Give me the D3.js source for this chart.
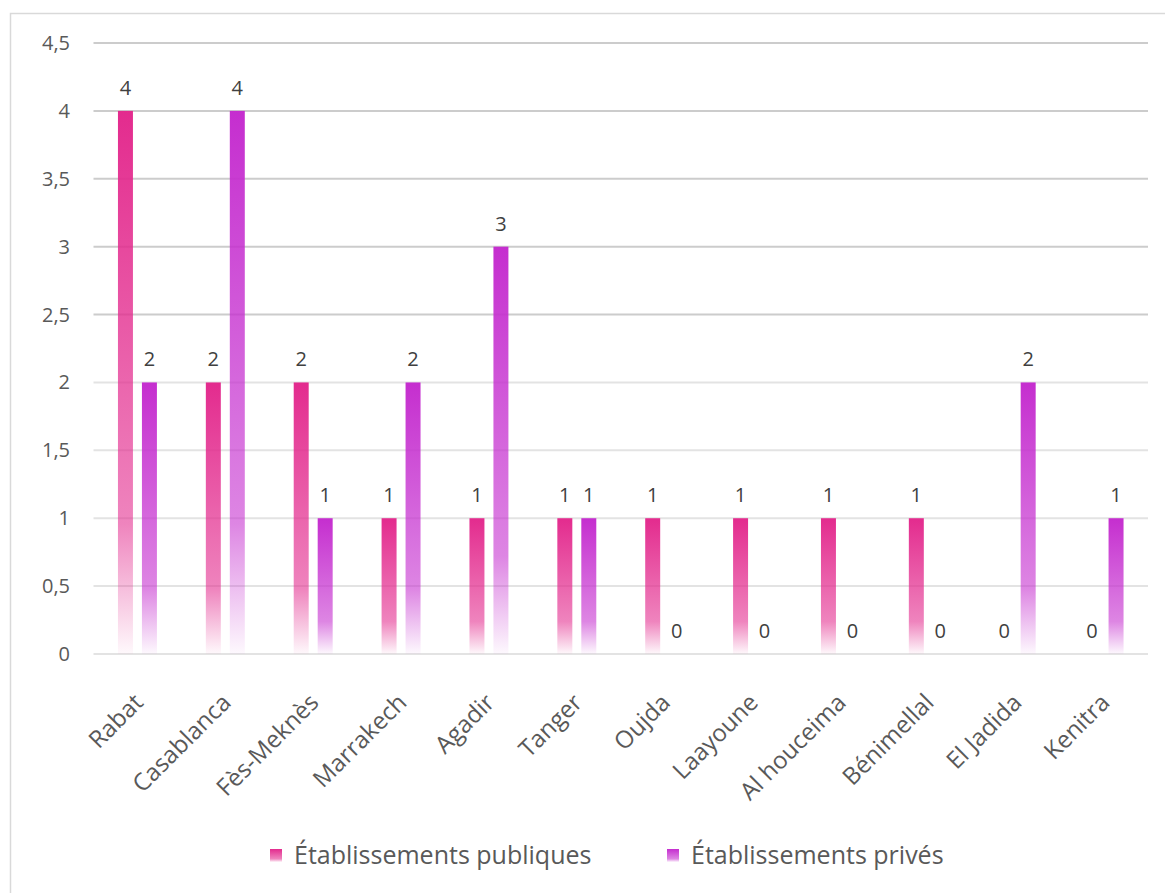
<!DOCTYPE html>
<html>
<head>
<meta charset="utf-8">
<script src="https://cdn.jsdelivr.net/npm/d3@7"></script>
<style>
    body { margin: 0; background: #fff; }
    text { font-family: "Open Sans", Calibri, sans-serif; }
    .tick-label { fill: #595959; font-size: 20px; }
    .cat-label { fill: #595959; font-size: 24px; }
    .value-label { fill: #404040; font-size: 20px; }
    .legend-label { fill: #595959; font-size: 25px; }
</style>
</head>
<body>
<div id="chart"></div>
<script>
"use strict"

// data
const categories = ["Rabat", "Casablanca", "Fès-Meknès", "Marrakech", "Agadir", "Tanger",
                    "Oujda", "Laayoune", "Al houceima", "Bénimellal", "El Jadida", "Kenitra"]
const publiques = [4, 2, 2, 1, 1, 1, 1, 1, 1, 1, 0, 0]
const prives    = [2, 4, 1, 2, 3, 1, 0, 0, 0, 0, 2, 1]
const seriesNames = ["Établissements publiques", "Établissements privés"]
const yTicks = [0, 0.5, 1, 1.5, 2, 2.5, 3, 3.5, 4, 4.5]

const chart = (function() {
    const w = 1165, h = 893
    const frame = { l: 93.5, r: 1148, t: 43, b: 654 }
    const colors = ["#E32B8E", "#C52ECF"]
    const fmt = d3.formatLocale({ decimal: ",", thousands: " ", grouping: [3], currency: ["", ""] }).format("~g")

    const rows = categories.map((c, i) => ({ cat: c, vals: [publiques[i], prives[i]] }))

    const x = d3.scaleBand().domain(categories).range([frame.l, frame.r]).paddingInner(0).paddingOuter(0)
    const x1 = d3.scaleBand().domain([0, 1]).range([0, x.bandwidth()]).paddingInner(0.375).paddingOuter(1.02)
    const y = d3.scaleLinear().domain([0, 4.5]).range([frame.b, frame.t])

    const svg = d3.select("#chart").append("svg")
        .attr("width", w).attr("height", h)

    // gradients (full colour at top, fading to white at the base)
    const defs = svg.append("defs")
    colors.forEach((c, i) => {
        const g = defs.append("linearGradient")
            .attr("id", "grad" + i)
            .attr("x1", 0).attr("y1", 0).attr("x2", 0).attr("y2", 1)
        g.append("stop").attr("offset", "0%").attr("stop-color", c).attr("stop-opacity", 1)
        g.append("stop").attr("offset", "76%").attr("stop-color", c).attr("stop-opacity", 0.58)
        g.append("stop").attr("offset", "100%").attr("stop-color", c).attr("stop-opacity", 0.03)
    })

    // outer frame
    svg.append("rect")
        .attr("x", 10.5).attr("y", 13.5)
        .attr("width", w + 20).attr("height", h + 20)
        .attr("fill", "none").attr("stroke", "#d9d9d9").attr("stroke-width", 1.5)

    // gridlines
    svg.append("g").selectAll("line")
        .data(yTicks)
        .enter().append("line")
            .attr("x1", frame.l).attr("x2", frame.r)
            .attr("y1", d => y(d)).attr("y2", d => y(d))
            .attr("stroke", d => d > 2 ? "#cccccc" : "#e3e3e3")
            .attr("stroke-width", 2)

    // y tick labels
    svg.append("g").selectAll("text")
        .data(yTicks)
        .enter().append("text")
            .attr("class", "tick-label")
            .attr("text-anchor", "end")
            .attr("x", 70)
            .attr("y", d => y(d))
            .attr("dy", "0.35em")
            .text(d => fmt(d))

    // bars
    const groups = svg.append("g").selectAll("g")
        .data(rows)
        .enter().append("g")
            .attr("transform", d => `translate(${ x(d.cat) }, 0)`)

    groups.selectAll("rect")
        .data(d => d.vals.map((v, i) => ({ v, i })))
        .enter().append("rect")
            .attr("x", d => x1(d.i))
            .attr("width", x1.bandwidth())
            .attr("y", d => y(d.v))
            .attr("height", d => y(0) - y(d.v))
            .attr("fill", d => `url(#grad${ d.i })`)

    groups.selectAll("text")
        .data(d => d.vals.map((v, i) => ({ v, i })))
        .enter().append("text")
            .attr("class", "value-label")
            .attr("text-anchor", "middle")
            .attr("x", d => x1(d.i) + x1.bandwidth() / 2)
            .attr("y", d => y(d.v) - 16)
            .text(d => d.v)

    // category labels
    svg.append("g").selectAll("text")
        .data(categories)
        .enter().append("text")
            .attr("class", "cat-label")
            .attr("text-anchor", "end")
            .attr("transform", d => `translate(${ x(d) + x.bandwidth() / 2 + 7 }, ${ frame.b + 50 }) rotate(-45)`)
            .text(d => d)

    // legend
    const legendX = [270, 667]
    const legend = svg.append("g").selectAll("g")
        .data(seriesNames)
        .enter().append("g")
            .attr("transform", (d, i) => `translate(${ legendX[i] }, 849)`)
    legend.append("rect")
        .attr("width", 12).attr("height", 13)
        .attr("fill", (d, i) => `url(#grad${ i })`)
    legend.append("text")
        .attr("class", "legend-label")
        .attr("x", 24).attr("y", 6.5).attr("dy", "0.35em")
        .text(d => d)

    return svg
}())
</script>
</body>
</html>
